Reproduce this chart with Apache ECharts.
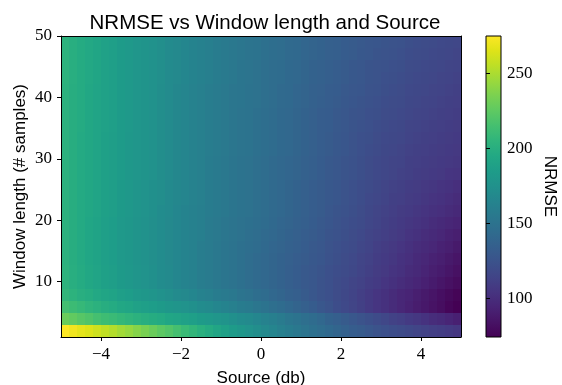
<!DOCTYPE html>
<html>
<head>
<meta charset="utf-8">
<script src="https://cdn.jsdelivr.net/npm/echarts@6/dist/echarts.min.js"></script>
<style>
  html, body { margin: 0; padding: 0; background: #fff; }
  #main { width: 562px; height: 385px; }
</style>
</head>
<body>
<div id="main"></div>
<script>
// Source level (dB): centre of each column
const sourceDb = [-4.9, -4.7, -4.5, -4.3, -4.1, -3.9, -3.7, -3.5, -3.3, -3.1,
  -2.9, -2.7, -2.5, -2.3, -2.1, -1.9, -1.7, -1.5, -1.3, -1.1,
  -0.9, -0.7, -0.5, -0.3, -0.1, 0.1, 0.3, 0.5, 0.7, 0.9,
  1.1, 1.3, 1.5, 1.7, 1.9, 2.1, 2.3, 2.5, 2.7, 2.9,
  3.1, 3.3, 3.5, 3.7, 3.9, 4.1, 4.3, 4.5, 4.7, 4.9];

// Window length (# samples): one entry per row, bottom to top
const windowLength = [2, 4, 6, 8, 10, 12, 14, 16, 18, 20, 22, 24, 26,
  28, 30, 32, 34, 36, 38, 40, 42, 44, 46, 48, 50];

// NRMSE, one row per window length (same order as windowLength)
const nrmse = [
  [275,271,267,264,260,256,252,247,243,238,234,229,224,220,215,210,206,201,197,192,188,184,180,176,172,168,165,161,158,154,151,148,145,142,139,136,133,131,128,125,123,121,119,117,115,113,111,110,108,106],
  [229,226,222,219,215,212,210,207,205,202,200,198,196,193,191,189,187,184,182,179,177,174,171,169,166,163,160,157,153,150,147,144,141,137,134,131,128,125,122,119,116,113,111,108,106,103,100,98,95,92],
  [214,211,208,205,202,199,197,194,192,189,187,185,183,180,178,176,174,171,169,166,164,161,158,156,153,150,147,144,141,138,135,132,128,125,121,118,115,112,108,105,102,99,96,93,90,87,84,81,77,74],
  [206,203,200,198,195,192,190,187,185,182,180,178,175,173,170,168,166,163,161,158,156,154,151,149,146,144,141,139,136,134,131,128,125,123,120,117,114,111,108,105,102,99,96,94,91,88,85,82,79,76],
  [203,200,197,194,191,188,186,183,181,178,176,174,171,169,166,164,162,159,157,154,152,150,148,145,143,141,139,137,134,132,130,128,125,123,120,118,115,113,110,108,105,102,100,97,95,92,89,86,83,80],
  [203,200,197,194,191,188,186,183,181,178,176,174,171,169,166,164,162,159,157,154,152,150,148,145,143,141,139,137,134,132,130,128,126,123,121,119,117,114,112,109,107,104,102,99,97,94,91,89,86,83],
  [202,199,196,193,190,187,185,182,180,177,175,173,171,168,166,164,162,159,157,154,152,150,148,145,143,141,139,137,135,133,131,129,127,124,122,120,118,115,113,110,108,106,103,101,98,96,93,91,88,85],
  [202,199,196,193,190,187,185,182,180,177,175,173,171,168,166,164,162,159,157,154,152,150,148,146,144,142,140,138,136,134,132,130,128,125,123,121,119,116,114,111,109,107,105,102,100,98,96,93,91,88],
  [202,199,196,193,190,187,185,182,180,177,175,173,171,168,166,164,162,160,157,155,153,151,149,147,145,143,141,139,137,135,133,131,129,126,124,122,120,118,115,113,111,109,107,104,102,100,98,96,93,91],
  [202,199,196,193,190,187,185,182,180,177,175,173,171,168,166,164,162,160,157,155,153,151,149,148,146,144,142,140,138,136,134,132,130,127,125,123,121,119,116,114,112,110,108,106,104,102,100,98,96,94],
  [202,199,196,194,191,188,186,183,181,178,176,174,171,169,166,164,162,160,158,156,154,152,150,149,147,145,143,141,139,137,135,133,131,128,126,124,122,120,117,115,113,111,109,108,106,104,102,101,99,97],
  [202,199,196,194,191,188,186,183,181,178,176,174,172,169,167,165,163,161,158,156,154,152,150,149,147,145,143,141,139,137,135,133,131,129,127,125,123,121,118,116,114,112,111,109,108,106,104,103,101,99],
  [202,199,196,194,191,188,186,183,181,178,176,174,172,169,167,165,163,161,158,156,154,152,150,149,147,145,143,141,139,137,135,133,131,129,127,125,123,121,119,117,115,113,112,110,109,107,106,104,103,101],
  [202,199,196,194,191,188,186,184,181,179,177,175,172,170,167,165,163,161,158,156,154,152,150,149,147,145,143,141,140,138,136,134,132,130,128,126,124,122,120,118,116,115,113,112,110,109,108,107,105,104],
  [202,199,196,194,191,188,186,184,181,179,177,175,172,170,167,165,163,161,158,156,154,152,150,149,147,145,143,141,140,138,136,134,132,130,128,126,124,122,120,118,116,115,114,112,111,110,109,108,107,106],
  [202,199,196,194,191,188,186,184,181,179,177,175,172,170,167,165,163,161,159,157,155,153,151,150,148,146,144,142,141,139,137,135,133,131,129,127,125,123,121,119,117,116,115,113,112,111,110,109,108,107],
  [202,199,196,194,191,188,186,184,181,179,177,175,172,170,167,165,163,161,159,157,155,153,151,150,148,146,144,142,141,139,137,135,133,131,129,127,125,123,122,120,118,117,116,114,113,112,111,110,109,108],
  [202,199,197,194,191,189,187,184,182,179,177,175,172,170,167,165,163,161,159,157,155,153,151,150,148,146,144,142,141,139,137,135,133,132,130,128,126,124,123,121,119,118,117,115,114,113,112,111,110,109],
  [202,199,197,194,191,189,187,184,182,179,177,175,172,170,167,165,163,161,159,157,155,153,151,150,148,146,144,142,141,139,137,135,133,132,130,128,126,125,123,122,120,119,118,116,115,114,113,112,111,110],
  [202,199,197,194,191,189,187,184,182,179,177,175,172,170,167,165,163,161,159,157,155,153,152,150,149,147,145,143,142,140,138,136,134,133,131,129,127,126,124,123,121,120,119,117,116,115,114,113,112,111],
  [202,199,197,194,191,189,187,184,182,179,177,175,172,170,167,165,163,161,159,157,155,153,152,150,149,147,145,143,142,140,138,136,135,133,132,130,128,127,125,124,122,121,120,118,117,116,115,114,113,112],
  [203,200,197,195,192,189,187,184,182,179,177,175,173,170,168,166,164,162,160,158,156,154,152,151,149,147,145,144,142,141,139,137,136,134,133,131,129,128,126,125,123,122,121,119,118,117,116,115,114,113],
  [203,200,197,195,192,189,187,184,182,179,177,175,173,170,168,166,164,162,160,158,156,154,152,151,149,147,145,144,142,141,139,137,136,134,133,131,129,128,126,125,124,123,122,120,119,118,117,116,115,114],
  [203,200,197,195,192,189,187,184,182,179,177,175,173,170,168,166,164,162,160,158,156,154,153,151,150,148,146,145,143,142,140,138,137,135,134,132,131,129,128,126,125,124,123,121,120,119,118,117,116,115],
  [203,200,197,195,192,189,187,184,182,179,177,175,173,170,168,166,164,162,160,158,156,154,153,151,150,148,146,145,143,142,140,138,137,135,134,132,131,130,128,127,126,125,124,122,121,120,119,118,117,116]
];

// Tick labels
const sourceTicks = [-4, -2, 0, 2, 4];
const windowTicks = [10, 20, 30, 40, 50];
const colorbarTicks = [100, 150, 200, 250];

// Axis extents
const sourceMin = -5, sourceMax = 5;
const windowMin = 1, windowMax = 50;
const nrmseMin = 74, nrmseMax = 275;

// viridis colormap
const viridis = ['#440154', '#471365', '#482475', '#463480', '#414487', '#3b528b',
  '#355f8d', '#2f6c8e', '#2a788e', '#25848e', '#21918c', '#1e9c89', '#22a884',
  '#2fb47c', '#44bf70', '#5ec962', '#7ad151', '#9bd93c', '#bddf26', '#dfe318', '#fde725'];

const serif = '"Liberation Serif", "DejaVu Serif", serif';
const sans = '"Liberation Sans", "DejaVu Sans", sans-serif';

// [source, window, value, rowIndex]
const cells = [];
nrmse.forEach((row, r) => {
  row.forEach((v, c) => cells.push([sourceDb[c], windowLength[r], v, r]));
});

const halfCol = (sourceDb[1] - sourceDb[0]) / 2;
const rowSpan = (windowMax - windowMin) / windowLength.length;

const minus = v => (v < 0 ? '\u2212' + Math.abs(v) : String(v));

const chart = echarts.init(document.getElementById('main'), null, { renderer: 'canvas' });

chart.setOption({
  animation: false,
  backgroundColor: '#fff',
  title: {
    text: 'NRMSE vs Window length and Source',
    left: 260,
    textAlign: 'center',
    top: 8,
    textStyle: { fontFamily: sans, fontSize: 20.5, fontWeight: 'normal', color: '#000' }
  },
  grid: [
    { left: 61, top: 36, width: 400, height: 301, containLabel: false, outerBoundsMode: 'none' },
    {
      left: 486, top: 36, width: 15, height: 301, show: true, outerBoundsMode: 'none',
      borderColor: '#000', borderWidth: 1,
      backgroundColor: new echarts.graphic.LinearGradient(0, 1, 0, 0,
        viridis.map((c, i) => ({ offset: i / (viridis.length - 1), color: c })))
    }
  ],
  xAxis: [
    {
      gridIndex: 0, type: 'value', min: sourceMin, max: sourceMax, position: 'bottom', z: 10,
      axisLine: { show: true, onZero: false, lineStyle: { color: '#000', width: 1 } },
      axisTick: { show: true, customValues: sourceTicks, length: 4, lineStyle: { color: '#000' } },
      axisLabel: { customValues: sourceTicks, formatter: minus, fontFamily: serif, fontSize: 17, color: '#000', margin: 9 },
      splitLine: { show: false },
      name: 'Source (db)', nameLocation: 'middle', nameGap: 33, nameMoveOverlap: false,
      nameTextStyle: { fontFamily: sans, fontSize: 17, color: '#000' }
    },
    {
      gridIndex: 0, type: 'value', min: sourceMin, max: sourceMax, position: 'top', z: 10,
      axisLine: { show: true, onZero: false, lineStyle: { color: '#000', width: 1 } },
      axisTick: { show: false }, axisLabel: { show: false }, splitLine: { show: false }
    },
    { gridIndex: 1, type: 'value', min: 0, max: 1, show: false }
  ],
  yAxis: [
    {
      gridIndex: 0, type: 'value', min: windowMin, max: windowMax, position: 'left', z: 10,
      axisLine: { show: true, onZero: false, lineStyle: { color: '#000', width: 1 } },
      axisTick: { show: true, customValues: windowTicks, length: 4, lineStyle: { color: '#000' } },
      axisLabel: { customValues: windowTicks, fontFamily: serif, fontSize: 17, color: '#000', margin: 9 },
      splitLine: { show: false },
      name: 'Window length (# samples)', nameLocation: 'middle', nameGap: 32, nameRotate: 90,
      nameMoveOverlap: false,
      nameTextStyle: { fontFamily: sans, fontSize: 17, color: '#000' }
    },
    {
      gridIndex: 0, type: 'value', min: windowMin, max: windowMax, position: 'right', z: 10,
      axisLine: { show: true, onZero: false, lineStyle: { color: '#000', width: 1 } },
      axisTick: { show: false }, axisLabel: { show: false }, splitLine: { show: false }
    },
    {
      gridIndex: 1, type: 'value', min: nrmseMin, max: nrmseMax, position: 'right', z: 10,
      axisLine: { show: false },
      axisTick: { show: true, customValues: colorbarTicks, length: 4, lineStyle: { color: '#000' } },
      axisLabel: { customValues: colorbarTicks, fontFamily: serif, fontSize: 17, color: '#000', margin: 6 },
      splitLine: { show: false },
      name: 'NRMSE', nameLocation: 'middle', nameGap: 40, nameRotate: -90,
      nameTextStyle: { fontFamily: sans, fontSize: 17, color: '#000' }
    }
  ],
  visualMap: {
    type: 'continuous', show: false, min: nrmseMin, max: nrmseMax,
    dimension: 2, seriesIndex: 0, inRange: { color: viridis }
  },
  series: [{
    type: 'custom',
    xAxisIndex: 0, yAxisIndex: 0,
    clip: true,
    encode: { x: 0, y: 1 },
    data: cells,
    renderItem: (params, api) => {
      const s = api.value(0);
      const r = api.value(3);
      const w0 = windowMin + r * rowSpan;
      // snap cell edges to whole pixels so neighbouring cells meet without seams
      const p0 = api.coord([s - halfCol, w0 + rowSpan]).map(Math.round);
      const p1 = api.coord([s + halfCol, w0]).map(Math.round);
      return {
        type: 'rect',
        shape: { x: p0[0], y: p0[1], width: p1[0] - p0[0], height: p1[1] - p0[1] },
        style: { fill: api.visual('color') }
      };
    }
  }]
});
</script>
</body>
</html>
